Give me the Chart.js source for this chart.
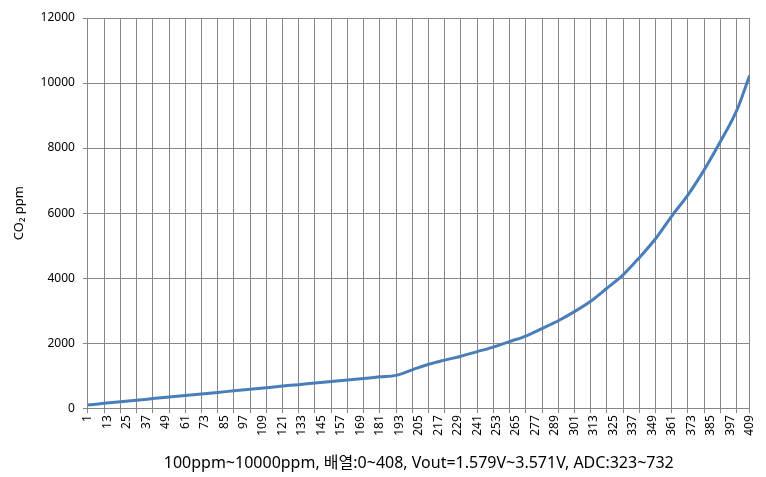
<!DOCTYPE html>
<html>
<head>
<meta charset="utf-8">
<script src="https://cdn.jsdelivr.net/npm/chart.js@4"></script>
<style>
  html, body { margin: 0; padding: 0; background: #fff; }
  #wrap { width: 766px; height: 477px; }
</style>
</head>
<body>
<div id="wrap"><canvas id="myChart"></canvas></div>
<script>
const pointIndex = [1, 11, 21, 31, 41, 51, 61, 71, 81, 91, 101, 111, 121, 131, 141, 151, 161, 171, 181, 191,
    201, 211, 221, 231, 241, 251, 261, 271, 281, 291, 301, 311, 321, 331, 341, 351, 361, 371, 381, 391, 401, 409];
const co2ppm = [100, 150, 200, 245, 295, 345, 390, 440, 485, 535, 580, 630, 680, 725, 775, 820, 870, 915, 965, 1010,
    1180, 1350, 1480, 1600, 1740, 1880, 2050, 2220, 2450, 2690, 2970, 3290, 3690, 4100, 4630, 5210, 5910, 6560, 7330, 8200, 9150, 10230];

// category labels shown under the axis
const xTickLabels = [1, 13, 25, 37, 49, 61, 73, 85, 97, 109, 121, 133, 145, 157, 169, 181, 193, 205, 217, 229,
    241, 253, 265, 277, 289, 301, 313, 325, 337, 349, 361, 373, 385, 397, 409];
// vertical gridlines / tick marks (every 10 categories)
const xGridTicks = [1, 11, 21, 31, 41, 51, 61, 71, 81, 91, 101, 111, 121, 131, 141, 151, 161, 171, 181, 191,
    201, 211, 221, 231, 241, 251, 261, 271, 281, 291, 301, 311, 321, 331, 341, 351, 361, 371, 381, 391, 401, 409];
const yTicks = [0, 2000, 4000, 6000, 8000, 10000, 12000];

const xTitle = '100ppm~10000ppm, 배열:0~408, Vout=1.579V~3.571V, ADC:323~732';
const yTitle = 'CO\u2082 ppm';

function drawChart() {
    let ctx = document.getElementById('myChart').getContext('2d');
    let gridColor = '#878787';
    let font = "'Noto Sans', 'Noto Sans CJK KR', sans-serif";
    let pts = [];
    for (let i = 0; i < pointIndex.length; i++) {
        pts.push({x: pointIndex[i], y: co2ppm[i]});
    }
    let config = {
        type: 'line',
        data: {
            datasets: [{
                label: 'CO2',
                data: pts,
                xAxisID: 'x',
                yAxisID: 'y',
                borderColor: '#4A7EBB',
                borderWidth: 3,
                pointRadius: 0,
                cubicInterpolationMode: 'monotone',
                fill: false
            }]
        },
        options: {
            animation: false,
            responsive: true,
            maintainAspectRatio: false,
            layout: { padding: { top: 18, right: 16, bottom: 4, left: 11 } },
            plugins: { legend: { display: false }, tooltip: { enabled: false } },
            scales: {
                x: {
                    type: 'linear',
                    position: 'bottom',
                    min: 1,
                    max: 409,
                    afterBuildTicks: (axis) => { axis.ticks = xGridTicks.map(v => ({value: v})); },
                    ticks: { display: false },
                    grid: { color: gridColor, lineWidth: 1, tickLength: 5 },
                    border: { color: gridColor }
                },
                x2: {
                    type: 'linear',
                    position: 'bottom',
                    min: 1,
                    max: 409,
                    afterBuildTicks: (axis) => { axis.ticks = xTickLabels.map(v => ({value: v})); },
                    grid: { display: false, drawTicks: false },
                    border: { display: false },
                    ticks: {
                        autoSkip: false,
                        minRotation: 90,
                        maxRotation: 90,
                        padding: 2,
                        color: '#000',
                        font: { family: font, size: 12 },
                        callback: (v) => String(v)
                    },
                    title: {
                        display: true,
                        text: xTitle,
                        color: '#000',
                        padding: { top: 16, bottom: 0 },
                        font: { family: font, size: 16 }
                    }
                },
                y: {
                    min: 0,
                    max: 12000,
                    afterBuildTicks: (axis) => { axis.ticks = yTicks.map(v => ({value: v})); },
                    ticks: {
                        color: '#000',
                        padding: 8,
                        font: { family: font, size: 12 },
                        callback: (v) => String(v)
                    },
                    grid: { color: gridColor, lineWidth: 1, tickLength: 5 },
                    border: { color: gridColor },
                    title: {
                        display: true,
                        text: yTitle,
                        color: '#000',
                        padding: { top: 0, bottom: 6 },
                        font: { family: font, size: 13 }
                    }
                }
            }
        }
    };
    new Chart(ctx, config);
}

drawChart();
</script>
</body>
</html>
